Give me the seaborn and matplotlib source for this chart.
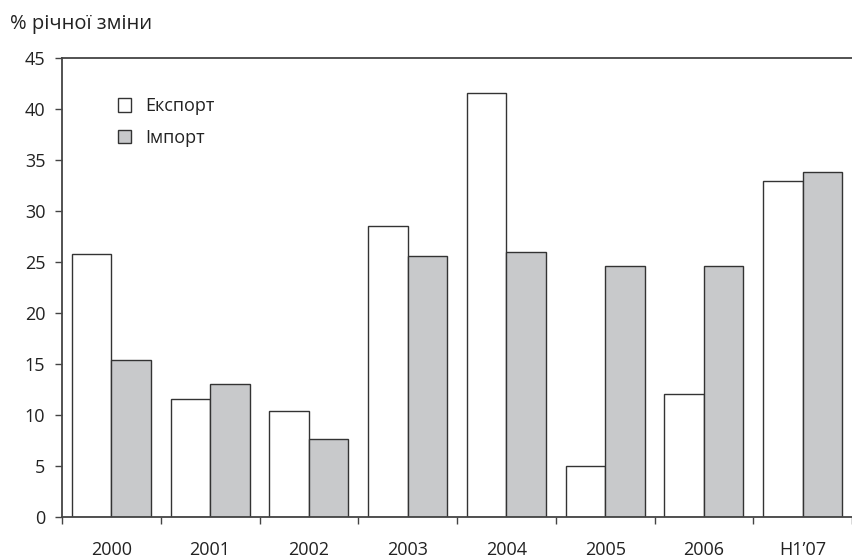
import pandas as pd
import seaborn as sns
import matplotlib.pyplot as plt
from matplotlib.ticker import FixedLocator

# Data
years = ['2000', '2001', '2002', '2003', '2004', '2005', '2006', 'H1\u201907']
export_vals = [25.8, 11.6, 10.4, 28.5, 41.6, 5.0, 12.1, 32.9]
import_vals = [15.4, 13.0, 7.6, 25.6, 26.0, 24.6, 24.6, 33.8]
series_names = ['Експорт', 'Імпорт']

df = pd.DataFrame({
    'year': years * 2,
    'value': export_vals + import_vals,
    'series': [series_names[0]] * len(years) + [series_names[1]] * len(years),
})

sns.set_style('white')
plt.rcParams['font.family'] = ['Open Sans', 'DejaVu Sans']
plt.rcParams['font.size'] = 13

fig = plt.figure(figsize=(8.52, 5.57), dpi=100)
ax = fig.add_axes([62 / 852, 40 / 557, 1 - 62 / 852, (517 - 58) / 557])

sns.barplot(data=df, x='year', y='value', hue='series', order=years,
            hue_order=series_names, palette=['white', '#c8c9cb'],
            edgecolor='#333333', linewidth=1.0, width=0.8, gap=0,
            saturation=1, ax=ax)

ax.set_xlim(-0.5, len(years) - 0.5)
ax.set_ylim(0, 45)
ax.set_yticks(range(0, 50, 5))
ax.set_xlabel('')
ax.set_ylabel('')

for side in ['left', 'bottom', 'top']:
    ax.spines[side].set_color('#444444')
    ax.spines[side].set_linewidth(1.3)
ax.spines['right'].set_visible(False)

ax.tick_params(axis='y', direction='out', length=5, width=1, color='#444444',
               pad=7, labelsize=13, left=True, labelcolor='#222222')
ax.tick_params(axis='x', which='major', length=0, pad=17, labelsize=13,
               labelcolor='#222222')
ax.xaxis.set_minor_locator(FixedLocator([i - 0.5 for i in range(len(years) + 1)]))
ax.tick_params(axis='x', which='minor', direction='out', length=5, width=1,
               color='#444444', bottom=True)

leg = ax.legend(loc='upper left', bbox_to_anchor=(0.05, 0.95), frameon=False,
                handlelength=0.75, handleheight=0.75, handletextpad=0.8,
                labelspacing=0.75, fontsize=13)
for t in leg.get_texts():
    t.set_color('#222222')

fig.text(10 / 852, 1 - 24 / 557, '% річної зміни', fontsize=14.5,
         va='center', ha='left', color='#222222')

fig.savefig('out.png', dpi=100)
